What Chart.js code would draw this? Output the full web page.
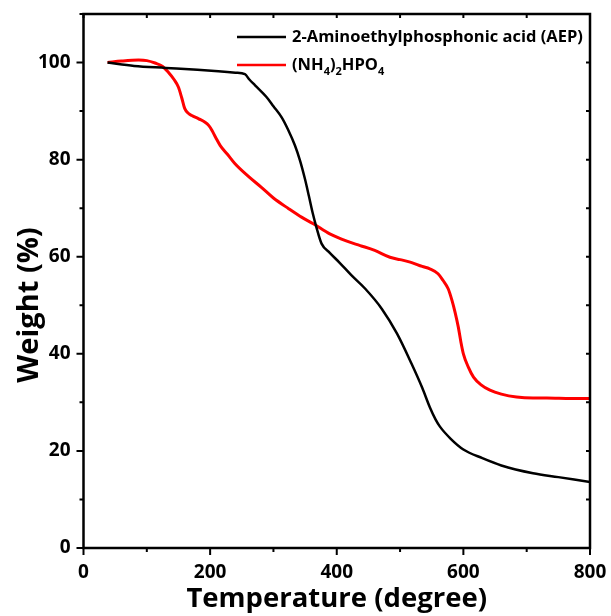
<!DOCTYPE html>
<html>
<head>
<meta charset="utf-8">
<script src="https://cdn.jsdelivr.net/npm/chart.js@4.4.1/dist/chart.umd.min.js"></script>
<style>
  html, body { margin: 0; padding: 0; background: #fff; }
  #wrap { width: 611px; height: 616px; }
</style>
</head>
<body>
<div id="wrap"><canvas id="tga"></canvas></div>
<script>
// --- dados ---
const aepTemp   = [38, 80, 130, 180, 213, 240, 255, 262, 271, 289, 300, 313, 323, 334, 342, 350, 356, 362, 368, 376, 389, 405, 423, 445, 471, 495, 518, 535, 547, 556, 563, 580, 600, 630, 660, 710, 750, 800];
const aepWeight = [100, 99.3, 98.9, 98.5, 98.2, 97.9, 97.6, 96.5, 95.3, 92.9, 91, 88.7, 86.2, 82.9, 79.8, 75.9, 72.5, 69, 66, 62.7, 60.8, 58.7, 56.2, 53.4, 49.3, 44.2, 38, 33, 29, 26.5, 25, 22.5, 20.3, 18.5, 17, 15.4, 14.6, 13.6];

const dapTemp   = [38, 60, 87, 100, 113, 125, 134, 143, 150, 155, 160, 166, 171, 182, 192, 198, 203, 209, 216, 228, 239, 260, 281, 300, 324, 345, 363, 389, 416, 437, 460, 484, 500, 516, 535, 547, 560, 568, 576, 582, 587, 592, 596, 600, 608, 616, 628, 642, 660, 684, 710, 732, 770, 800];
const dapWeight = [100, 100.3, 100.5, 100.4, 99.9, 99.2, 98, 96.5, 94.9, 92.8, 90.5, 89.5, 89.1, 88.4, 87.7, 87, 86, 84.5, 82.9, 81, 79.2, 76.6, 74.3, 72.1, 69.9, 68.1, 66.8, 64.7, 63.2, 62.3, 61.3, 59.9, 59.4, 58.9, 58, 57.5, 56.5, 55.1, 53.4, 51, 48.5, 45.5, 42.5, 40, 37.2, 35.2, 33.6, 32.5, 31.7, 31.1, 30.9, 30.9, 30.8, 30.8];

const seriesLabels = ['2-Aminoethylphosphonic acid (AEP)', '(NH₄)₂HPO₄'];
const xTicks = [0, 200, 400, 600, 800];
const yTicks = [0, 20, 40, 60, 80, 100];
const X_MINOR = 100;
const Y_MINOR = 10;
const yTitle = 'Weight (%)';

const FONT = '"Open Sans", "Noto Sans", sans-serif';

const toPoints = (xs, ys) => xs.map((v, i) => ({ x: v, y: ys[i] }));

// moldura + marcas de escala (principais e secundárias) + título do eixo Y
const frameTicks = {
    id: 'frameTicks',
    afterDraw(chart) {
        const { ctx, chartArea: { left, right, top, bottom }, scales: { x, y } } = chart;
        ctx.save();
        ctx.strokeStyle = '#000';
        ctx.lineWidth = 2;
        ctx.beginPath();
        for (let v = x.min; v <= x.max; v += X_MINOR) {
            const px = x.getPixelForValue(v);
            const major = xTicks.includes(v);
            ctx.moveTo(px, bottom); ctx.lineTo(px, bottom + (major ? 7 : 4));
            ctx.moveTo(px, top); ctx.lineTo(px, top + 4);
        }
        for (let v = y.min; v <= y.max; v += Y_MINOR) {
            const py = y.getPixelForValue(v);
            const major = yTicks.includes(v);
            ctx.moveTo(left, py); ctx.lineTo(left - (major ? 7 : 4), py);
            ctx.moveTo(right, py); ctx.lineTo(right - 4, py);
        }
        ctx.stroke();
        ctx.lineWidth = 2.5;
        ctx.strokeRect(left, top, right - left, bottom - top);

        // título Y (um pouco abaixo do centro, como no original)
        ctx.translate(30, (top + bottom) / 2 + 24);
        ctx.rotate(-Math.PI / 2);
        ctx.fillStyle = '#000';
        ctx.font = 'bold 29px ' + FONT;
        ctx.textAlign = 'center';
        ctx.textBaseline = 'middle';
        ctx.fillText(yTitle, 0, 0);
        ctx.restore();
    }
};

// legenda com subscritos
const subLegend = {
    id: 'subLegend',
    afterDraw(chart) {
        const { ctx, chartArea: { right, top } } = chart;
        const subs = { '₀': '0', '₁': '1', '₂': '2', '₃': '3', '₄': '4', '₅': '5', '₆': '6', '₇': '7', '₈': '8', '₉': '9' };
        ctx.save();
        chart.data.datasets.forEach((ds, i) => {
            const yy = top + 23 + i * 28;
            const x0 = right - 353;
            ctx.strokeStyle = ds.borderColor;
            ctx.lineWidth = 2.5;
            ctx.beginPath(); ctx.moveTo(x0, yy); ctx.lineTo(x0 + 49, yy); ctx.stroke();
            let tx = x0 + 55;
            ctx.fillStyle = '#000';
            ctx.textBaseline = 'middle';
            for (const ch of ds.label) {
                if (subs[ch]) {
                    ctx.font = 'bold 11px ' + FONT;
                    ctx.fillText(subs[ch], tx, yy + 7);
                    tx += ctx.measureText(subs[ch]).width;
                } else {
                    ctx.font = 'bold 16.5px ' + FONT;
                    ctx.fillText(ch, tx, yy);
                    tx += ctx.measureText(ch).width;
                }
            }
        });
        ctx.restore();
    }
};

const ctx = document.getElementById('tga').getContext('2d');
const chart = new Chart(ctx, {
    type: 'line',
    data: {
        datasets: [
            {
                label: seriesLabels[0],
                data: toPoints(aepTemp, aepWeight),
                borderColor: '#000000',
                borderWidth: 2.5,
                pointRadius: 0,
                cubicInterpolationMode: 'monotone',
                fill: false
            },
            {
                label: seriesLabels[1],
                data: toPoints(dapTemp, dapWeight),
                borderColor: '#ff0000',
                borderWidth: 3,
                pointRadius: 0,
                cubicInterpolationMode: 'monotone',
                fill: false
            }
        ]
    },
    options: {
        responsive: true,
        maintainAspectRatio: false,
        animation: false,
        layout: { padding: { top: 14, right: 21, left: 0, bottom: 0 } },
        scales: {
            x: {
                type: 'linear',
                min: 0,
                max: 800,
                afterBuildTicks: (s) => { s.ticks = xTicks.map(v => ({ value: v })); },
                afterFit: (s) => { s.height = 68; s.paddingLeft = 0; s.paddingRight = 0; },
                grid: { display: false, drawTicks: false },
                border: { display: false },
                ticks: { color: '#000', padding: 13, maxRotation: 0, font: { family: FONT, size: 19, weight: 'bold' } },
                title: { display: true, text: 'Temperature (degree)', color: '#000', padding: 0, font: { family: FONT, size: 27.5, weight: 'bold' } }
            },
            y: {
                min: 0,
                max: 110,
                afterBuildTicks: (s) => { s.ticks = yTicks.map(v => ({ value: v })); },
                afterFit: (s) => { s.width = 83.5; s.paddingTop = 0; s.paddingBottom = 0; },
                grid: { display: false, drawTicks: false },
                border: { display: false },
                ticks: { color: '#000', padding: 13, font: { family: FONT, size: 19, weight: 'bold' } },
                title: { display: false }
            }
        },
        plugins: {
            legend: { display: false },
            tooltip: { enabled: false }
        }
    },
    plugins: [frameTicks, subLegend]
});
</script>
</body>
</html>
